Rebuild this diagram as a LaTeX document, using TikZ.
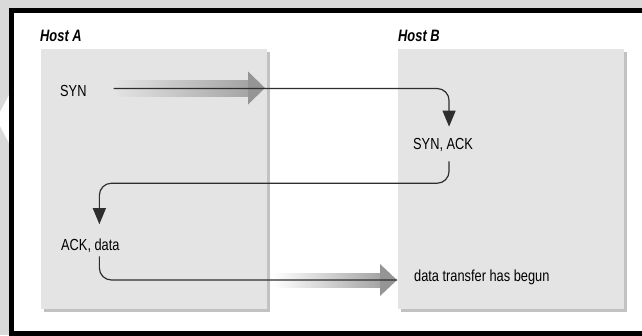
\documentclass[tikz,border=0pt]{standalone}
\usepackage{fontspec}
\setmainfont{Liberation Sans}
\newfontfamily\msgfont[FakeStretch=0.8]{Liberation Sans}
\newfontfamily\hostfont[FakeStretch=0.78]{Liberation Sans}
\usetikzlibrary{calc,arrows.meta,shadows}

\definecolor{pagegray}{HTML}{D9D9D9}
\definecolor{boxgray}{HTML}{E4E4E4}
\definecolor{shadowgray}{HTML}{C2C2C2}
\definecolor{flowgray}{HTML}{959595}
\definecolor{linegray}{HTML}{2E2E2E}

\tikzset{
  hostbox/.style={fill=boxgray, minimum width=226pt, minimum height=260pt,
    inner sep=0pt, outer sep=0pt,
    drop shadow={shadow xshift=3pt, shadow yshift=-3pt, fill=shadowgray, opacity=1}},
  hostlabel/.style={font=\hostfont\bfseries\itshape\fontsize{16.5}{18}\selectfont,
    inner sep=0pt, anchor=base west},
  msg/.style={font=\msgfont\fontsize{16}{18}\selectfont, inner sep=0pt, anchor=base west},
  conn/.style={draw=linegray, line width=1.2pt, rounded corners=12pt},
  tip/.style={-{Triangle[width=13pt,length=16pt]}},
}

\begin{document}
\begin{tikzpicture}[x=1pt,y=-1pt]
  \useasboundingbox (0,0) rectangle (642,335);
  % page background and framed white panel
  \fill[pagegray] (0,0) rectangle (642,335);
  \fill[white] (9,95) -- (0,112) -- (0,126) -- (9,143) -- cycle;
  \fill[black] (9,8) rectangle (660,350);
  \fill[white] (14,13) rectangle (660,331);

  % the two hosts
  \node[hostbox] (hostA) at (154,179) {};
  \node[hostbox] (hostB) at (510.5,179) {};
  \node[hostlabel] (labelA) at (40,41) {Host A};
  \node[hostlabel] (labelB) at (398,41) {Host B};

  % messages
  \node[msg] (syn) at (60,96) {SYN};
  \node[msg] (synack) at (413,149) {SYN, ACK};
  \node[msg] (ackdata) at (61,250) {ACK, data};
  \node[msg] (begun) at (414,281) {data transfer has begun};

  % wide shaded flow arrows
  \coordinate (flowA) at (265,88);
  \coordinate (flowB) at (397,280);
  \shade[left color=boxgray, right color=flowgray!85]
    ($(flowA)+(-152,-8)$) rectangle ($(flowA)+(-17,8)$);
  \fill[flowgray] ($(flowA)+(-17,-16.5)$) -- (flowA) -- ($(flowA)+(-17,16.5)$) -- cycle;
  \shade[left color=white, right color=flowgray!85]
    ($(flowB)+(-124,-7)$) rectangle ($(flowB)+(-17,7)$);
  \fill[flowgray] ($(flowB)+(-17,-16)$) -- (flowB) -- ($(flowB)+(-17,16)$) -- cycle;

  % handshake connectors
  \draw[conn, tip] ([shift={(27,-2)}]syn.east) -| ([shift={(6,-11)}]synack.north);
  \draw[conn, tip] ([shift={(6,10)}]synack.south) -- ++(0,22)
    -| ([shift={(9,-14)}]ackdata.north);
  \draw[conn] ([shift={(9,4)}]ackdata.south) |- (flowB);
\end{tikzpicture}
\end{document}
